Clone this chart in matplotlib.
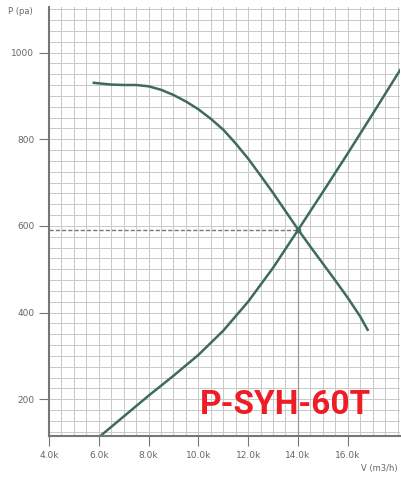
import numpy as np
import matplotlib.pyplot as plt
from matplotlib.ticker import MultipleLocator, FuncFormatter

# pump curve (falling) and system curve (rising)
pump_v = [5800, 6500, 7000, 7500, 8000, 8500, 9000, 9500, 10000, 10500,
          11000, 11500, 12000, 12500, 13000, 13500, 14000, 14500, 15000,
          15500, 16000, 16500, 16800]
pump_p = [930, 926, 925, 925, 922, 914, 902, 887, 869, 847,
          822, 790, 755, 716, 676, 634, 592, 552, 513, 474, 434, 391, 360]

sys_v = [6000, 7000, 8000, 9000, 10000, 11000, 12000, 13000, 14000,
         15000, 16000, 17000, 18000, 18200]
sys_p = [112, 160, 208, 254, 302, 358, 425, 503, 590,
         678, 767, 858, 950, 968]

op_v, op_p = 14000, 590
x_ticks = [4000, 6000, 8000, 10000, 12000, 14000, 16000]
title = "P-SYH-60T"

fig = plt.figure(figsize=(4.02, 4.82), dpi=100)
ax = fig.add_axes([49 / 402, 46 / 482, 351 / 402, 429 / 482])

ax.set_xlim(4000, 18100)
ax.set_ylim(115, 1105)

ax.set_xticks(x_ticks)
ax.xaxis.set_minor_locator(MultipleLocator(500))
ax.yaxis.set_major_locator(MultipleLocator(200))
ax.yaxis.set_minor_locator(MultipleLocator(25))
ax.xaxis.set_major_formatter(FuncFormatter(lambda v, p: f"{v / 1000:.1f}k"))

ax.grid(which="both", color="#c9c9c9", linewidth=0.7)
ax.set_axisbelow(True)

for s in ["top", "right"]:
    ax.spines[s].set_visible(False)
for s in ["left", "bottom"]:
    ax.spines[s].set_color("#777777")
    ax.spines[s].set_linewidth(1.5)

ax.tick_params(which="major", length=7, color="#777777", labelsize=6.5,
               labelcolor="#666666")
ax.tick_params(which="minor", length=0)

line_col = "#3f6b5c"
ax.plot(pump_v, pump_p, color=line_col, linewidth=1.8)
ax.plot(sys_v, sys_p, color=line_col, linewidth=1.8)

# operating point guides
ax.plot([4000, op_v], [op_p, op_p], color="#777777", linewidth=1.0,
        linestyle=(0, (3, 1.5)))
ax.plot([op_v, op_v], [115, op_p], color="#999999", linewidth=0.9)
ax.plot([op_v], [op_p], "o", color=line_col, markersize=3)

fig.text(8 / 402, 1 - 12 / 482, "P (pa)", fontsize=6, color="#666666",
         va="center")
fig.text(398 / 402, 1 - 468 / 482, "V (m3/h)", fontsize=6, color="#666666",
         ha="right", va="center")

fig.text(285 / 402, 1 - 405 / 482, title, fontsize=24, fontweight="bold",
         family="Roboto", color="#ee1c25", ha="center", va="center")

fig.savefig("out.png", dpi=100)
